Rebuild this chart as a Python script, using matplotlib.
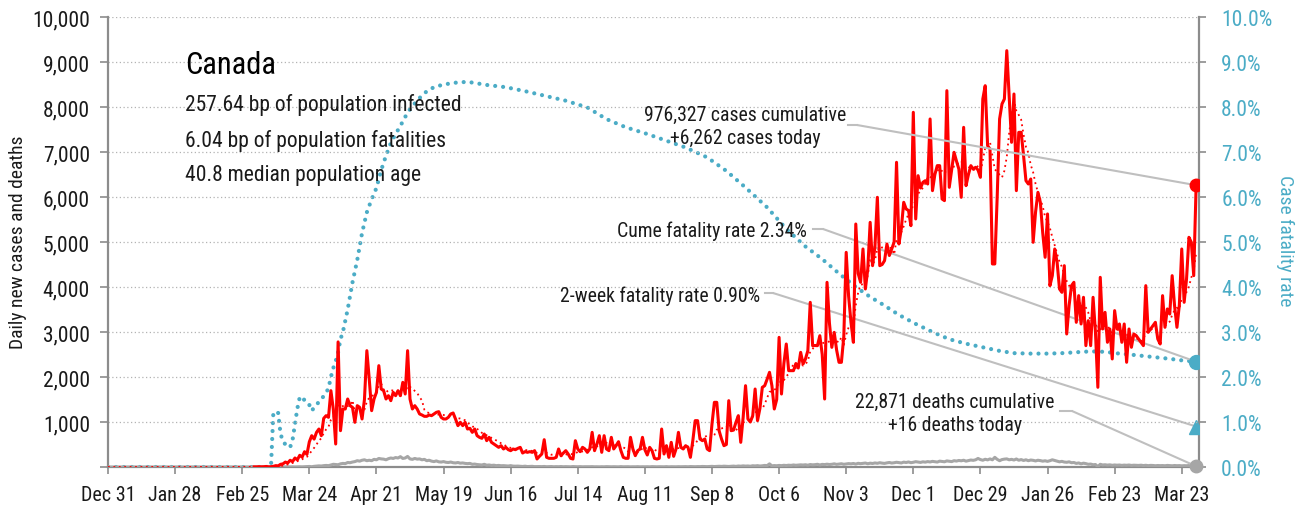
import matplotlib
matplotlib.use("Agg")
import matplotlib.pyplot as plt
import matplotlib.ticker as mticker
from matplotlib import font_manager as fm
import numpy as np
import pandas as pd

# condensed sans, whichever is installed
available = {f.name for f in fm.fontManager.ttflist}
prefs = ["Roboto Condensed", "Fira Sans Condensed", "Barlow Semi Condensed",
         "Archivo Narrow", "PT Sans Narrow", "Asap Condensed",
         "Liberation Sans Narrow", "DejaVu Sans"]
chosen = next((p for p in prefs if p in available), "DejaVu Sans")
plt.rcParams['font.family'] = [chosen, 'DejaVu Sans']

# ---- data ----
chart_start = "2019-12-31"
data_start = "2020-03-01"

# daily new cases, Mar 1 2020 .. Mar 29 2021
daily_cases = [
    3, 3, 6, 4, 6, 12, 3, 6, 15, 30,
    25, 60, 70, 110, 90, 150, 120, 200, 160, 260,
    220, 340, 280, 560, 696, 620, 770, 844, 696, 1081,
    1141, 1104, 1696, 1289, 511, 2780, 807, 1289, 1289, 1511,
    1363, 1326, 993, 1363, 1326, 1067, 1500, 2585, 1955, 1252,
    1511, 1659, 2252, 1733, 1696, 1511, 1585, 1474, 1659, 1585,
    1696, 1585, 1881, 1622, 2585, 1511, 1289, 1363, 1289, 1178,
    1156, 1126, 1126, 1156, 1141, 1178, 1215, 1230, 1104, 1067,
    1067, 1104, 1178, 1200, 1067, 919, 993, 919, 993, 844,
    859, 770, 844, 696, 659, 637, 733, 585, 659, 548,
    511, 474, 437, 474, 400, 437, 385, 363, 400, 385,
    415, 437, 311, 341, 326, 341, 326, 363, 178, 237,
    289, 607, 215, 193, 193, 193, 215, 400, 252, 311,
    363, 289, 193, 178, 585, 400, 341, 437, 400, 326,
    400, 770, 363, 511, 696, 326, 696, 400, 363, 659,
    400, 474, 563, 363, 215, 193, 193, 659, 400, 252,
    363, 400, 659, 385, 267, 437, 363, 193, 178, 193,
    844, 289, 474, 215, 548, 237, 400, 770, 437, 400,
    474, 437, 215, 585, 1030, 1030, 622, 585, 622, 400,
    363, 955, 1437, 1437, 800, 620, 474, 500, 1474, 807,
    820, 993, 1141, 548, 1100, 1807, 1067, 1000, 1141, 1733,
    1030, 1300, 1770, 1807, 1950, 2104, 1807, 1289, 1500, 2881,
    1622, 2300, 2733, 2141, 2141, 2141, 2300, 2200, 2548, 2289,
    2400, 2585, 3659, 2696, 2700, 2696, 2918, 2500, 1511, 4104,
    3200, 2659, 2992, 2600, 2326, 2326, 2900, 4770, 3800, 3215,
    2770, 5400, 4300, 4104, 4845, 3956, 4400, 5437, 4474, 4900,
    5993, 4474, 4500, 4586, 4956, 4700, 4845, 5000, 6771, 4956,
    5300, 5882, 5734, 5700, 5363, 7882, 5512, 6474, 6200, 6326,
    6363, 6289, 7734, 6141, 6500, 6697, 6697, 5956, 5919, 8363,
    6215, 6600, 6993, 6800, 6622, 5993, 7548, 6252, 6500, 6697,
    6622, 6660, 6600, 6437, 8178, 8474, 7141, 7067, 4512, 4512,
    6000, 7734, 8067, 8178, 9252, 8252, 7215, 8289, 6141, 7437,
    7437, 6919, 6363, 6289, 6400, 4993, 5660, 6104, 5882, 5200,
    4660, 5623, 4030, 4252, 4845, 4549, 3956, 3882, 4474, 2956,
    3586, 4030, 4104, 3215, 3808, 3178, 3771, 2697, 3252, 2697,
    3771, 2993, 1771, 4215, 3067, 3437, 2771, 3067, 2401, 3475,
    3067, 3178, 2771, 3178, 2327, 3067, 2660, 2956, 2919, 2845,
    2771, 2697, 4030, 2993, 3067, 3141, 3215, 2845, 2734, 3808,
    3104, 3512, 3400, 4252, 3586, 3104, 3600, 4845, 3660, 4178,
    5104, 4993, 4252, 6262,
]

# daily deaths, same dates
daily_deaths = [
    0, 0, 0, 0, 0, 0, 0, 0,
    1, 0, 0, 0, 0, 1, 1, 2, 3, 1, 4,
    5, 3, 6, 8, 12, 6, 15, 20, 25, 22,
    30, 35, 30, 45, 60, 55, 50, 70, 80, 75,
    100, 95, 110, 120, 140, 130, 150, 160, 140, 150,
    140, 170, 160, 190, 180, 175, 160, 185, 200, 190,
    210, 200, 230, 190, 200, 235, 180, 170, 190, 175,
    180, 160, 170, 140, 150, 130, 120, 135, 115, 110,
    120, 105, 100, 110, 95, 90, 100, 85, 90, 80,
    75, 80, 60, 65, 55, 50, 45, 60, 40, 45,
    35, 40, 30, 35, 28, 30, 25, 22, 30, 20,
    18, 20, 15, 12, 18, 10, 12, 15, 8, 10,
    10, 8, 12, 6, 8, 10, 5, 8, 6, 10,
    5, 8, 6, 4, 10, 6, 5, 8, 4, 6,
    5, 6, 8, 4, 5, 3, 6, 4, 8, 5,
    4, 6, 5, 3, 8, 4, 5, 6, 3, 5,
    4, 7, 3, 5, 4, 6, 3, 8, 5, 4,
    6, 5, 4, 8, 3, 6, 5, 4, 7, 5,
    6, 8, 5, 10, 7, 6, 9, 8, 12, 10,
    8, 11, 14, 10, 12, 16, 13, 18, 15, 12,
    17, 20, 14, 22, 18, 25, 20, 23, 17, 28,
    24, 30, 22, 27, 35, 30, 70, 25, 32, 28,
    35, 30, 38, 33, 40, 36, 45, 38, 42, 48,
    44, 50, 40, 55, 48, 52, 60, 45, 58, 54,
    62, 55, 60, 70, 58, 66, 72, 60, 68, 75,
    70, 78, 65, 82, 74, 80, 88, 72, 85, 78,
    90, 82, 95, 86, 80, 92, 100, 88, 95, 105,
    98, 90, 108, 100, 112, 96, 105, 118, 110, 102,
    115, 108, 120, 112, 125, 118, 110, 130, 122, 116,
    135, 128, 120, 140, 132, 145, 138, 150, 130, 142,
    155, 148, 160, 190, 165, 150, 172, 158, 180, 160,
    215, 170, 140, 165, 175, 180, 160, 170, 155, 178,
    150, 165, 145, 160, 140, 155, 148, 135, 150, 142,
    130, 138, 125, 140, 160, 145, 128, 115, 125, 110,
    105, 115, 95, 100, 80, 90, 70, 85, 75, 60,
    65, 50, 55, 8, 60, 45, 50, 42, 48, 38,
    45, 40, 44, 36, 42, 38, 44, 35, 40, 37,
    35, 40, 32, 38, 30, 36, 34, 28, 33, 30,
    32, 28, 35, 30, 27, 33, 29, 31, 26, 30,
    28, 32, 25, 22, 16,
]

# cumulative case fatality rate (%), days after Dec 31 2019
cfr_day = [0, 68, 69, 70, 71, 72, 73, 74, 75, 76, 77, 78, 79, 80, 81, 82, 83,
           84, 85, 86, 87, 88, 89, 90, 91, 92, 93, 94, 95, 96, 97, 98, 100,
           102, 104, 106, 108, 110, 112, 114, 116, 118, 120, 122, 124, 126,
           128, 130, 133, 136, 140, 145, 150, 158, 166, 175, 183, 191, 200,
           208, 216, 225, 233, 241, 250, 258, 266, 275, 283, 291, 298, 305,
           312, 318, 323, 330, 337, 344, 351, 358, 365, 372, 378, 385, 392,
           398, 404, 410, 416, 422, 428, 435, 442, 448, 454]
cfr_pct = [0.0, 0.0, 1.22, 1.22, 1.2, 0.73, 0.58, 0.5, 0.45, 0.44, 0.6, 0.95,
           1.3, 1.55, 1.48, 1.5, 1.45, 1.38, 1.25, 1.32, 1.38, 1.45, 1.5,
           1.58, 1.65, 1.75, 2.0, 2.2, 2.35, 2.55, 2.84, 3.0, 3.5, 4.1, 4.6,
           5.2, 5.66, 5.95, 6.2, 6.6, 6.92, 7.2, 7.4, 7.58, 7.78, 7.95, 8.08,
           8.2, 8.35, 8.44, 8.5, 8.54, 8.56, 8.49, 8.44, 8.34, 8.24, 8.14,
           7.99, 7.73, 7.55, 7.4, 7.25, 7.1, 6.88, 6.58, 6.21, 5.77, 5.29,
           4.9, 4.62, 4.3, 4.0, 3.78, 3.62, 3.38, 3.18, 3.0, 2.84, 2.74,
           2.66, 2.58, 2.53, 2.52, 2.52, 2.53, 2.55, 2.57, 2.56, 2.52, 2.49,
           2.45, 2.41, 2.37, 2.34]

two_week_cfr = 0.90
cume_cases = 976327
cume_deaths = 22871

title = "Canada"
stats = ["257.64 bp of population infected",
         "6.04 bp of population fatalities",
         "40.8 median population age"]

# ---- series ----
t0 = pd.Timestamp(chart_start)
dates = pd.date_range(data_start, periods=len(daily_cases), freq="D")
full = pd.date_range(chart_start, dates[-1], freq="D")
cases_s = pd.Series(daily_cases, index=dates)
cases = cases_s.reindex(full, fill_value=0)
deaths = pd.Series(daily_deaths, index=dates).reindex(full, fill_value=0)
cases_avg = cases.rolling(7, min_periods=1).mean()
cfr_dates = t0 + pd.to_timedelta(cfr_day, unit="D")
last = full[-1]

RED = "#ff0000"
TEAL = "#4bacc6"
GREY = "#a6a6a6"
LEAD = "#bfbfbf"
AXC = "#8c8c8c"
TXT = "#1a1a1a"

W, H = 1307, 510
fig = plt.figure(figsize=(W / 100, H / 100), dpi=100)
L, R, T, B = 108, 1199, 18, 468
ax = fig.add_axes([L / W, 1 - B / H, (R - L) / W, (B - T) / H])
ax2 = ax.twinx()
ax.set_zorder(ax2.get_zorder() + 1)
ax.patch.set_visible(False)


def px(x, y):
    return ((x - L) / (R - L), (B - y) / (B - T))


# lines
ax.plot(full, deaths, color=GREY, lw=2.2, solid_joinstyle="round", zorder=3)
ax.plot(full, cases_avg, color=RED, lw=1.3, linestyle=(0, (1, 2)), zorder=3)
ax.plot(cases_s.index, cases_s.values, color=RED, lw=2.2,
        solid_joinstyle="round", zorder=4)
ax2.plot(cfr_dates, cfr_pct, color=TEAL, lw=3, linestyle=(0, (0.01, 1.9)),
         dash_capstyle="round", zorder=2)

# end markers
ax.plot([last], [daily_cases[-1]], "o", color=RED, ms=9, zorder=6)
ax.plot([last], [daily_deaths[-1]], "o", color=GREY, ms=9, zorder=6, clip_on=False)
ax2.plot([last], [cfr_pct[-1]], "o", color=TEAL, ms=10, zorder=6)
ax2.plot([last], [two_week_cfr], "^", color=TEAL, ms=10, zorder=6)

# axes
ax.set_xlim(t0, t0 + pd.Timedelta(days=455.2))
ax.set_ylim(0, 10000)
ax2.set_ylim(0, 10)
ax.set_xticks(pd.date_range(chart_start, periods=17, freq="28D"))
ax.xaxis.set_major_formatter(mticker.FuncFormatter(
    lambda v, p: "{:%b} {}".format(matplotlib.dates.num2date(v), matplotlib.dates.num2date(v).day)))
ax.set_yticks(np.arange(0, 10001, 1000))
ax.yaxis.set_major_formatter(mticker.FuncFormatter(lambda v, p: "" if v == 0 else f"{v:,.0f}"))
ax2.set_yticks(np.arange(0, 10.01, 1))
ax2.yaxis.set_major_formatter(mticker.FuncFormatter(lambda v, p: f"{v:.1f}%"))

ax.grid(axis="y", color="#b3b3b3", linestyle=(0, (1, 2)), lw=0.9)
ax.set_axisbelow(True)
for a in (ax, ax2):
    for s in a.spines.values():
        s.set_visible(False)
ax.spines["left"].set_visible(True)
ax.spines["bottom"].set_visible(True)
ax2.spines["right"].set_visible(True)
for s in (ax.spines["left"], ax.spines["bottom"], ax2.spines["right"]):
    s.set_color(AXC)
    s.set_linewidth(1.6)

ax.tick_params(axis="y", direction="out", length=6, width=1.2, color=AXC,
               labelsize=15.5, labelcolor=TXT, pad=7)
ax.tick_params(axis="x", direction="out", length=5, width=1.2, color=AXC,
               labelsize=14.5, labelcolor=TXT, pad=8)
ax2.tick_params(axis="y", direction="out", length=5, width=1.2, color=AXC,
                labelsize=15.5, labelcolor=TEAL, pad=11)

fig.text(18 / W, 1 - 242 / H, "Daily new cases and deaths", rotation=90,
         ha="center", va="center", fontsize=14, color=TXT)
fig.text(1285 / W, 1 - 241 / H, "Case fatality rate", rotation=270,
         ha="center", va="center", fontsize=14, color=TEAL)

# title block
ax.text(*px(185, 66), title, transform=ax.transAxes, fontsize=22,
        ha="left", va="center", color="#000000")
for i, line in enumerate(stats):
    ax.text(*px(185, 105 + 35.5 * i), line, transform=ax.transAxes,
            fontsize=15.5, ha="left", va="center", color=TXT)


# annotations
def leader(knee0, knee1, target, a):
    k0 = px(*knee0)
    k1 = px(*knee1)
    ax.plot([k0[0], k1[0]], [k0[1], k1[1]], color=LEAD, lw=1.5,
            transform=ax.transAxes, zorder=5)
    a.annotate("", xy=target, xycoords="data", xytext=k1,
               textcoords=ax.transAxes,
               arrowprops=dict(arrowstyle="-", color=LEAD, lw=1.5,
                               shrinkA=0, shrinkB=0), zorder=5)


AFS = 14.2
ax.text(*px(745, 127), f"{cume_cases:,} cases cumulative\n+{daily_cases[-1]:,} cases today",
        transform=ax.transAxes, fontsize=AFS, ha="center", va="center",
        color=TXT, linespacing=1.3)
leader((848, 126), (857, 126), (last, daily_cases[-1]), ax)

ax.text(*px(807, 231), f"Cume fatality rate {cfr_pct[-1]:.2f}%",
        transform=ax.transAxes, fontsize=AFS, ha="right", va="center", color=TXT)
leader((813, 230), (823, 230), (last, cfr_pct[-1]), ax2)

ax.text(*px(760, 296), f"2-week fatality rate {two_week_cfr:.2f}%",
        transform=ax.transAxes, fontsize=AFS, ha="right", va="center", color=TXT)
leader((765, 294), (773, 294), (last, two_week_cfr), ax2)

ax.text(*px(955, 414), f"{cume_deaths:,} deaths cumulative\n+{daily_deaths[-1]} deaths today",
        transform=ax.transAxes, fontsize=AFS, ha="center", va="center",
        color=TXT, linespacing=1.3)
leader((1060, 412), (1072, 412), (last, daily_deaths[-1]), ax)

fig.savefig("out.png", dpi=100)
